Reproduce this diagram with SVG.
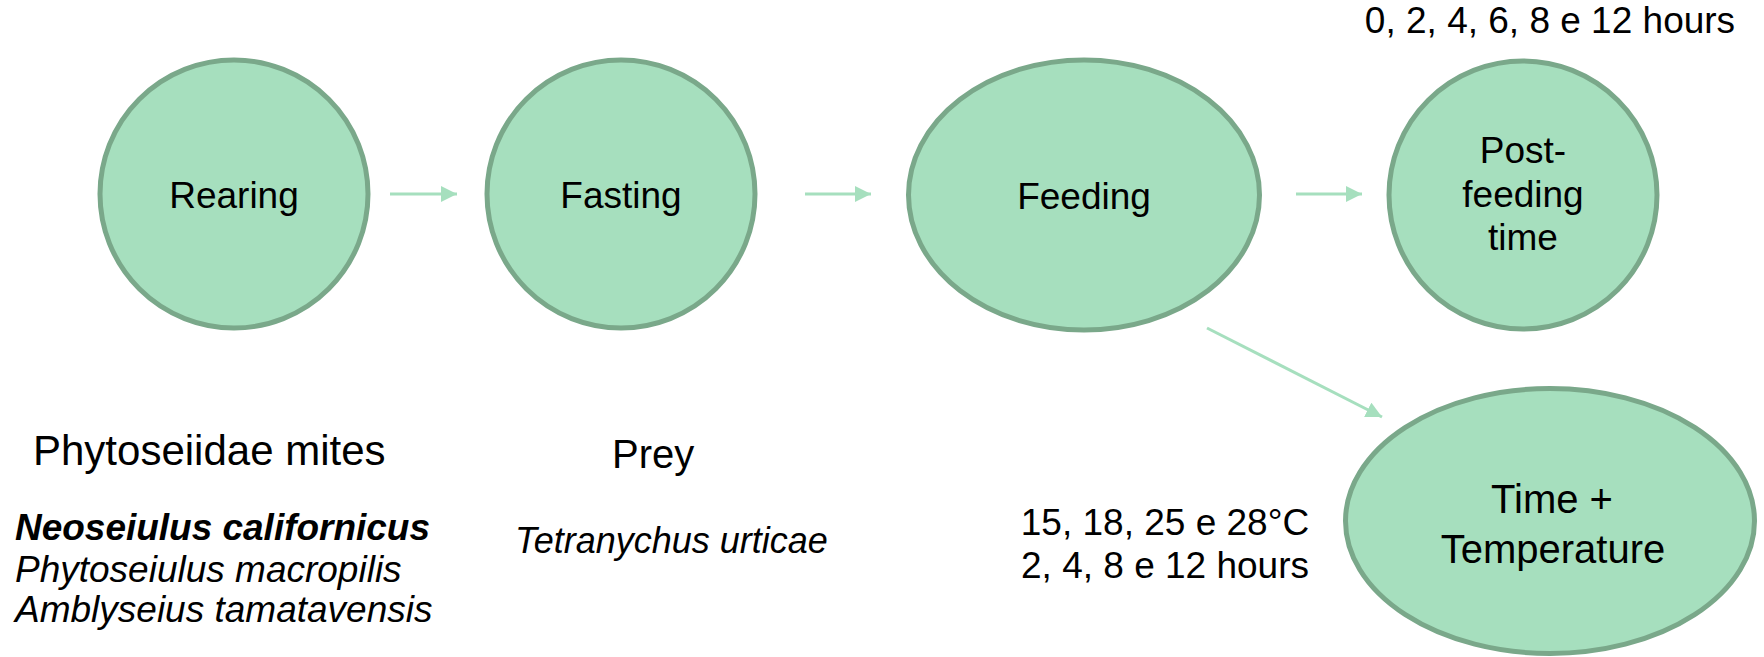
<svg xmlns="http://www.w3.org/2000/svg" width="1764" height="657" viewBox="0 0 1764 657">
  <style>
    .node { fill: #A6DFBE; stroke: #7AA88A; stroke-width: 5; }
    .lbl { font-family: "Liberation Sans", Arial, sans-serif; font-size: 37px; fill: #000; text-anchor: middle; }
    .note { font-family: "Liberation Sans", Arial, sans-serif; font-size: 37px; fill: #000; }
    .it { font-style: italic; }
    .conn { stroke: #A6DFBE; stroke-width: 3; fill: none; marker-end: url(#head); }
  </style>
  <defs>
    <marker id="head" markerUnits="userSpaceOnUse" markerWidth="17" markerHeight="17" refX="16" refY="8" orient="auto">
      <path d="M0,0 L16,8 L0,16 Z" fill="#A6DFBE"/>
    </marker>
  </defs>
  <rect width="1764" height="657" fill="#FFFFFF"/>

  <!-- connectors -->
  <g id="connectors">
    <line class="conn" x1="390" y1="194" x2="457" y2="194"/>
    <line class="conn" x1="805" y1="194" x2="871" y2="194"/>
    <line class="conn" x1="1296" y1="194" x2="1362" y2="194"/>
    <line class="conn" x1="1207" y1="328" x2="1382" y2="417"/>
  </g>

  <!-- process stages -->
  <g id="rearing">
    <circle class="node" cx="234" cy="194" r="134"/>
    <text class="lbl" x="234" y="208">Rearing</text>
  </g>
  <g id="fasting">
    <circle class="node" cx="621" cy="194" r="134"/>
    <text class="lbl" x="621" y="208">Fasting</text>
  </g>
  <g id="feeding">
    <ellipse class="node" cx="1084" cy="195" rx="175.5" ry="135"/>
    <text class="lbl" x="1084" y="209">Feeding</text>
  </g>
  <g id="post-feeding">
    <circle class="node" cx="1523" cy="195" r="134"/>
    <text class="lbl" x="1523" y="163">Post-</text>
    <text class="lbl" x="1523" y="207">feeding</text>
    <text class="lbl" x="1523" y="250">time</text>
  </g>
  <g id="time-temperature">
    <ellipse class="node" cx="1550" cy="521" rx="204.5" ry="132.5"/>
    <text class="lbl" x="1552" y="513" style="font-size:40px">Time +</text>
    <text class="lbl" x="1553" y="563" style="font-size:40px">Temperature</text>
  </g>

  <!-- annotations -->
  <g id="hours-post">
    <text class="note" x="1550" y="33" text-anchor="middle">0, 2, 4, 6, 8 e 12 hours</text>
  </g>
  <g id="conditions">
    <text class="note" x="1165" y="535" text-anchor="middle">15, 18, 25 e 28°C</text>
    <text class="note" x="1165" y="578" text-anchor="middle">2, 4, 8 e 12 hours</text>
  </g>
  <g id="mites">
    <text class="note" x="33" y="465" style="font-size:42px">Phytoseiidae mites</text>
    <text class="note it" x="15" y="540" style="font-weight:bold" textLength="415" lengthAdjust="spacingAndGlyphs">Neoseiulus californicus</text>
    <text class="note it" x="15" y="582">Phytoseiulus macropilis</text>
    <text class="note it" x="15" y="622">Amblyseius tamatavensis</text>
  </g>
  <g id="prey">
    <text class="note" x="612" y="468" style="font-size:40px">Prey</text>
    <text class="note it" x="515" y="553" style="font-size:36px">Tetranychus urticae</text>
  </g>
</svg>
